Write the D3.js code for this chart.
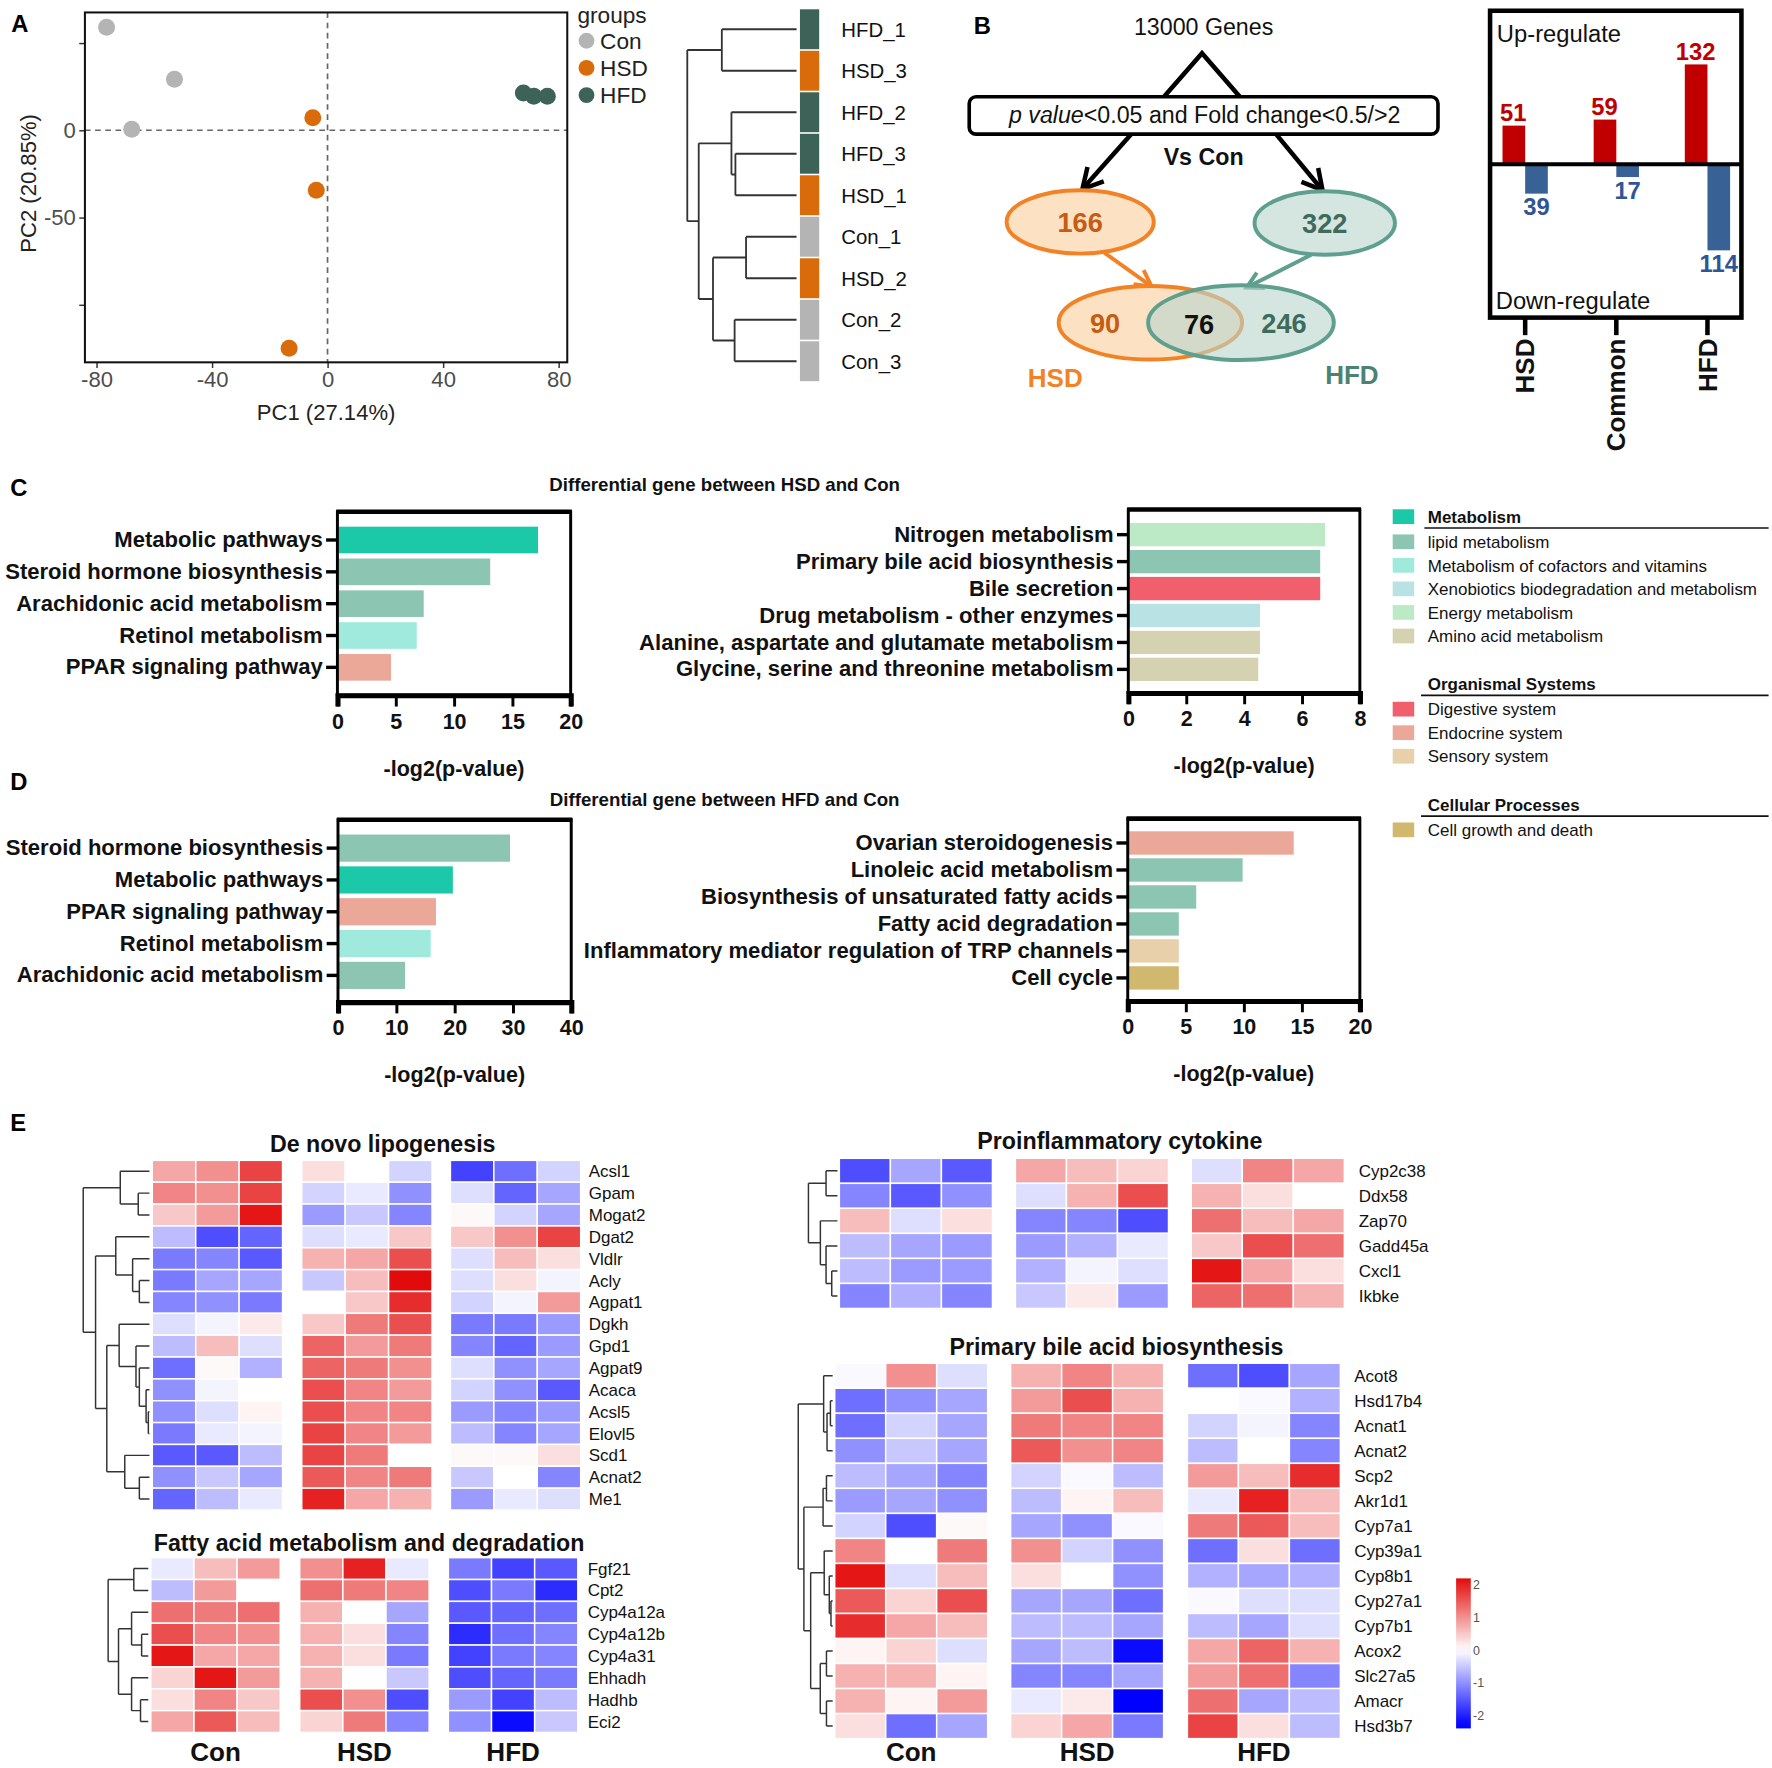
<!DOCTYPE html>
<html>
<head>
<meta charset="utf-8">
<title>Transcriptome figure</title>
<script src="https://cdn.jsdelivr.net/npm/d3@7"></script>
<style>
  body { margin: 0; background: #fff; }
  svg { font-family: "Liberation Sans", Arial, Helvetica, sans-serif; }
</style>
</head>
<body>
<div id="chart"></div>
<script>
// ---------------- data ----------------
// A: PCA
var pcaGroupNames = ["Con", "HSD", "HFD"];
var pcaGroupColors = ["#b4b4b4", "#d96b0b", "#3d6358"];
var pcaGroup = ["Con", "Con", "Con", "HSD", "HSD", "HSD", "HFD", "HFD", "HFD"];
var pc1 = [-76.5, -53, -67.8, -5.1, -3.9, -13.3, 67.8, 71.4, 76.1];
var pc2 = [59, 29.2, 0.6, 7.1, -34.4, -125, 21.4, 19.5, 19.5];
var pcaXTicks = [-80, -40, 0, 40, 80];
var pcaYTicks = [50, 0, -50, -100];
var pcaYLabelled = [0, -50];

// A: sample clustering
var sampleOrder = ["HFD_1", "HSD_3", "HFD_2", "HFD_3", "HSD_1", "Con_1", "HSD_2", "Con_2", "Con_3"];
var sampleGroup = ["HFD", "HSD", "HFD", "HFD", "HSD", "Con", "HSD", "Con", "Con"];
// [left, right, height]
var sampleTree = [[0, 1, 66], [[2, [3, 4, 54], 57.5], [[5, 6, 44.6], [7, 8, 54.7], 73.8], 86.4], 96.5];

// B: DEG counts
var totalGenes = 13000;
var degHSD = 166, degHFD = 322;
var onlyHSD = 90, commonDEG = 76, onlyHFD = 246;
var regCategories = ["HSD", "Common", "HFD"];
var upCounts = [51, 59, 132];
var downCounts = [39, 17, 114];

// C / D: KEGG classes
var keggClasses = ["Metabolism", "lipid metabolism", "Metabolism of cofactors and vitamins",
  "Xenobiotics biodegradation and metabolism", "Energy metabolism", "Amino acid metabolism",
  "Digestive system", "Endocrine system", "Sensory system", "Cell growth and death"];
var keggColors = ["#1bc9a9", "#8cc5b2", "#9feadc", "#b9e2e4", "#bdeac6", "#d4d2b1",
  "#f15f6c", "#eba898", "#e8d0ab", "#d1b86f"];
var legendHeaders = ["Metabolism", "Organismal Systems", "Cellular Processes"];
var legendItems = [
  ["lipid metabolism", "Metabolism of cofactors and vitamins", "Xenobiotics biodegradation and metabolism", "Energy metabolism", "Amino acid metabolism"],
  ["Digestive system", "Endocrine system", "Sensory system"],
  ["Cell growth and death"]
];

var cLeftTerms = ["Metabolic pathways", "Steroid hormone biosynthesis", "Arachidonic acid metabolism", "Retinol metabolism", "PPAR signaling pathway"];
var cLeftValues = [17.2, 13.1, 7.4, 6.8, 4.6];
var cLeftClass = ["Metabolism", "lipid metabolism", "lipid metabolism", "Metabolism of cofactors and vitamins", "Endocrine system"];

var cRightTerms = ["Nitrogen metabolism", "Primary bile acid biosynthesis", "Bile secretion", "Drug metabolism - other enzymes", "Alanine, aspartate and glutamate metabolism", "Glycine, serine and threonine metabolism"];
var cRightValues = [6.8, 6.63, 6.63, 4.55, 4.55, 4.49];
var cRightClass = ["Energy metabolism", "lipid metabolism", "Digestive system", "Xenobiotics biodegradation and metabolism", "Amino acid metabolism", "Amino acid metabolism"];

var dLeftTerms = ["Steroid hormone biosynthesis", "Metabolic pathways", "PPAR signaling pathway", "Retinol metabolism", "Arachidonic acid metabolism"];
var dLeftValues = [29.5, 19.7, 16.8, 15.9, 11.5];
var dLeftClass = ["lipid metabolism", "Metabolism", "Endocrine system", "Metabolism of cofactors and vitamins", "lipid metabolism"];

var dRightTerms = ["Ovarian steroidogenesis", "Linoleic acid metabolism", "Biosynthesis of unsaturated fatty acids", "Fatty acid degradation", "Inflammatory mediator regulation of TRP channels", "Cell cycle"];
var dRightValues = [14.3, 9.9, 5.9, 4.4, 4.4, 4.4];
var dRightClass = ["Endocrine system", "lipid metabolism", "lipid metabolism", "lipid metabolism", "Sensory system", "Cell growth and death"];

// E: heatmaps (z-scores; columns Con1-3, HSD1-3, HFD1-3)
var heatGroups = ["Con", "HSD", "HFD"];

var denovoGenes = ["Acsl1", "Gpam", "Mogat2", "Dgat2", "Vldlr", "Acly", "Agpat1", "Dgkh", "Gpd1", "Agpat9", "Acaca", "Acsl5", "Elovl5", "Scd1", "Acnat2", "Me1"];
var denovoZ = [
  [0.8, 1.0, 1.7, 0.3, 0.0, -0.4, -1.7, -1.3, -0.4],
  [1.1, 1.0, 1.7, -0.4, -0.2, -1.0, -0.3, -1.4, -0.8],
  [0.5, 0.9, 2.1, -0.9, -0.5, -1.1, 0.05, -0.4, -0.8],
  [-0.6, -1.6, -1.4, -0.3, -0.2, 0.5, 0.5, 1.0, 1.7],
  [-1.2, -1.1, -1.5, 0.7, 0.8, 1.6, -0.3, 0.6, 0.3],
  [-1.2, -0.8, -0.8, -0.5, 0.6, 2.2, -0.3, 0.3, -0.1],
  [-1.1, -1.0, -1.2, 0.0, 0.5, 1.9, -0.4, -0.1, 0.9],
  [-0.3, -0.1, 0.2, 0.5, 1.2, 1.6, -1.2, -1.2, -0.9],
  [-0.6, 0.6, -0.3, 1.4, 0.9, 1.2, -1.1, -1.4, -0.9],
  [-1.3, 0.05, -0.7, 1.4, 1.2, 1.0, -0.3, -1.0, -0.8],
  [-1.0, -0.1, 0.0, 1.6, 1.1, 0.9, -0.4, -1.0, -1.5],
  [-1.0, -0.3, 0.1, 1.6, 1.1, 1.1, -0.9, -1.1, -0.9],
  [-1.2, -0.2, -0.1, 1.7, 1.1, 0.9, -0.6, -1.1, -0.8],
  [-1.5, -1.5, -0.6, 1.7, 1.2, 0.0, 0.05, 0.05, 0.3],
  [-1.0, -0.5, -0.8, 1.5, 1.1, 1.2, -0.5, 0.0, -1.1],
  [-1.4, -0.6, -0.2, 2.0, 0.8, 0.7, -0.9, -0.2, -0.3]
];
var denovoTree = [[0, [1, 2, 10], 26], [[3, [4, [5, 6, 9], 15], 30], [[7, [8, [9, [10, [11, 12, 1], 3], 9], 12], 27], [13, [14, 15, 9], 22], 38], 48], 59];

var fattyGenes = ["Fgf21", "Cpt2", "Cyp4a12a", "Cyp4a12b", "Cyp4a31", "Ehhadh", "Hadhb", "Eci2"];
var fattyZ = [
  [-0.2, 0.6, 0.9, 1.0, 2.0, -0.2, -1.2, -1.7, -1.5],
  [-0.6, 0.9, 0.0, 1.3, 1.2, 1.1, -1.6, -1.2, -1.9],
  [1.3, 1.2, 1.3, 0.7, 0.0, -0.8, -1.5, -1.4, -1.3],
  [1.6, 1.1, 1.0, 0.7, 0.3, -1.1, -1.9, -1.3, -1.1],
  [2.1, 0.8, 0.8, 0.7, 0.3, -1.2, -1.7, -1.2, -1.1],
  [0.4, 2.1, 0.9, 0.7, 0.0, -0.5, -1.6, -1.4, -1.2],
  [0.3, 1.1, 0.5, 1.6, 1.0, -1.6, -0.9, -1.7, -0.6],
  [0.8, 1.5, 0.6, 0.4, 1.2, -1.1, -1.0, -2.2, -0.5]
];
var fattyTree = [[0, 1, 13], [[2, [3, 4, 6], 15], [5, [6, 7, 7], 15], 26.7], 36];

var inflamGenes = ["Cyp2c38", "Ddx58", "Zap70", "Gadd45a", "Cxcl1", "Ikbke"];
var inflamZ = [
  [-1.6, -0.8, -1.5, 0.8, 0.6, 0.4, -0.3, 1.1, 0.8],
  [-1.1, -1.5, -1.0, -0.3, 0.7, 1.6, 0.7, 0.3, 0.0],
  [0.6, -0.3, 0.3, -1.1, -1.1, -1.6, 1.3, 0.6, 0.8],
  [-0.6, -0.8, -0.9, -0.9, -0.7, -0.2, 0.5, 1.6, 1.3],
  [-0.6, -0.9, -0.9, -0.7, -0.1, -0.3, 2.1, 0.8, 0.3],
  [-1.1, -0.7, -1.1, -0.5, 0.2, -0.9, 1.4, 1.3, 0.7]
];
var inflamTree = [[0, 1, 10], [2, [3, [4, 5, 5], 10], 15], 25.5];

var bileGenes = ["Acot8", "Hsd17b4", "Acnat1", "Acnat2", "Scp2", "Akr1d1", "Cyp7a1", "Cyp39a1", "Cyp8b1", "Cyp27a1", "Cyp7b1", "Acox2", "Slc27a5", "Amacr", "Hsd3b7"];
var bileZ = [
  [-0.05, 1.0, -0.3, 0.7, 1.1, 0.7, -1.3, -1.6, -0.8],
  [-1.3, -1.0, -0.8, 0.9, 1.6, 0.7, 0.0, -0.05, -0.7],
  [-1.3, -0.4, -0.8, 1.2, 1.1, 1.1, -0.4, -0.1, -1.1],
  [-1.0, -0.5, -0.8, 1.5, 1.0, 1.1, -0.6, 0.0, -1.1],
  [-0.6, -0.8, -1.1, -0.4, -0.05, -0.6, 0.9, 0.6, 1.9],
  [-0.9, -0.8, -1.0, -0.6, 0.1, 0.6, -0.2, 2.0, 0.6],
  [-0.4, -1.6, 0.05, -0.8, -1.0, -0.05, 1.2, 1.5, 0.6],
  [1.1, 0.0, 1.2, 1.0, -0.4, -1.0, -1.3, 0.3, -1.3],
  [2.1, -0.3, 0.6, 0.3, 0.0, -1.0, -0.7, -0.8, -0.7],
  [1.5, 0.4, 1.6, -0.8, -0.8, -1.3, -0.05, -0.3, -0.3],
  [1.9, 0.8, 0.6, -0.6, -0.6, -0.8, -0.6, -0.8, -0.3],
  [0.1, 0.4, -0.3, -0.8, -0.6, -2.2, 0.8, 1.4, 0.7],
  [0.7, 0.7, 0.1, -1.1, -1.1, -0.8, 0.9, 1.3, -1.1],
  [0.7, 0.1, 0.9, -0.2, 0.2, -2.3, 1.3, -0.8, -0.6],
  [0.3, -1.3, -0.8, 0.4, 0.8, -1.2, 1.7, 0.3, -0.6]
];
var bileTree = [[0, [[1, 2, 2], 3, 5], 8], [[[4, 5, 5.5], 6, 8.5], [[7, [8, [9, 10, 1.5], 3], 7.5], [[11, 12, 5.5], [13, 14, 5.5], 11], 19.5], 25.5], 30.5];

var colorbarTicks = [2, 1, 0, -1, -2];

// ---------------- drawing ----------------
var S = 1772 / 1565;   // layout worked out at 1565 px wide
var svg = d3.select("#chart").append("svg").attr("width", 1772).attr("height", 1768);
svg.append("rect").attr("width", 1772).attr("height", 1768).attr("fill", "#fff");
var root = svg.append("g").attr("transform", "scale(" + S + ")");

function txt(g, x, y, s, size, opts) {
  opts = opts || {};
  return g.append("text").attr("x", x).attr("y", y).text(s)
    .attr("font-size", size)
    .attr("font-weight", opts.bold ? "bold" : null)
    .attr("text-anchor", opts.anchor || "start")
    .attr("fill", opts.fill || "#000");
}

[["A", 10, 28], ["B", 860, 30], ["C", 9, 438], ["D", 9, 698], ["E", 9, 999]].forEach(function (p) {
  txt(root, p[1], p[2], p[0], 21, { bold: true });
});

var groupColor = d3.scaleOrdinal().domain(pcaGroupNames).range(pcaGroupColors);

// ---- A: PCA ----
(function () {
  var g = root.append("g");
  var x = d3.scaleLinear().domain([-84, 83]).range([75, 501]);
  var y = d3.scaleLinear().domain([-133, 67.5]).range([320, 11]);

  g.append("line").attr("x1", x(0)).attr("x2", x(0)).attr("y1", 11).attr("y2", 320)
    .attr("stroke", "#666").attr("stroke-width", 1.5).attr("stroke-dasharray", "5,4");
  g.append("line").attr("x1", 75).attr("x2", 501).attr("y1", y(0)).attr("y2", y(0))
    .attr("stroke", "#666").attr("stroke-width", 1.5).attr("stroke-dasharray", "5,4");

  var xa = g.append("g").attr("transform", "translate(0,320)")
    .call(d3.axisBottom(x).tickValues(pcaXTicks).tickSize(5).tickFormat(function (d) { return String(d); }));
  var ya = g.append("g").attr("transform", "translate(75,0)")
    .call(d3.axisLeft(y).tickValues(pcaYTicks).tickSize(5)
      .tickFormat(function (d) { return pcaYLabelled.indexOf(d) >= 0 ? String(d) : ""; }));
  [xa, ya].forEach(function (a) {
    a.select(".domain").remove();
    a.selectAll("line").attr("stroke", "#333").attr("stroke-width", 1.3);
    a.selectAll("text").attr("font-size", 19.5).attr("fill", "#4d4d4d").attr("font-family", null);
  });

  g.append("rect").attr("x", 75).attr("y", 11).attr("width", 426).attr("height", 309)
    .attr("fill", "none").attr("stroke", "#111").attr("stroke-width", 1.8);

  g.selectAll("circle.pt").data(pc1).enter().append("circle")
    .attr("cx", function (d) { return x(d); })
    .attr("cy", function (d, i) { return y(pc2[i]); })
    .attr("r", 7.5)
    .attr("fill", function (d, i) { return groupColor(pcaGroup[i]); });

  txt(g, 288, 371, "PC1 (27.14%)", 19.5, { anchor: "middle", fill: "#222" });
  txt(g, 0, 0, "PC2 (20.85%)", 19.5, { anchor: "middle", fill: "#222" })
    .attr("transform", "translate(32,162) rotate(-90)");

  txt(g, 510, 20, "groups", 20, { fill: "#222" });
  pcaGroupNames.forEach(function (n, i) {
    g.append("circle").attr("cx", 518).attr("cy", 36 + i * 24).attr("r", 7).attr("fill", groupColor(n));
    txt(g, 530, 43 + i * 24, n, 20, { fill: "#222" });
  });
})();

// ---- dendrogram helper ----
function layoutTree(node, leafY) {
  if (typeof node === "number") return { y: leafY(node), h: 0 };
  var a = layoutTree(node[0], leafY), b = layoutTree(node[1], leafY);
  return { y: (a.y + b.y) / 2, h: node[2], kids: [a, b] };
}
function drawTree(g, tree, leafY, hx, width) {
  var r = layoutTree(tree, leafY);
  var d = [];
  (function walk(n) {
    if (!n.kids) return;
    n.kids.forEach(function (k) { d.push("M" + hx(k.h) + "," + k.y + "H" + hx(n.h)); walk(k); });
    d.push("M" + hx(n.h) + "," + n.kids[0].y + "V" + n.kids[1].y);
  })(r);
  g.append("path").attr("d", d.join("")).attr("fill", "none")
    .attr("stroke", "#333").attr("stroke-width", width || 1.4);
}

// ---- A: sample clustering ----
(function () {
  var g = root.append("g");
  var yb = d3.scaleBand().domain(sampleOrder).range([7.5, 7.5 + 9 * 36.65]);
  var leafY = function (i) { return yb(sampleOrder[i]) + yb.bandwidth() / 2; };
  var hx = d3.scaleLinear().domain([0, 96.5]).range([703.5, 607]);
  drawTree(g, sampleTree, leafY, hx, 1.6);
  g.selectAll("rect.sb").data(sampleOrder).enter().append("rect")
    .attr("x", 706.5).attr("width", 17)
    .attr("y", function (d) { return yb(d) + 0.7; })
    .attr("height", yb.bandwidth() - 1.4)
    .attr("fill", function (d, i) { return groupColor(sampleGroup[i]); });
  g.selectAll("text.sl").data(sampleOrder).enter().append("text")
    .attr("x", 743).attr("y", function (d) { return yb(d) + yb.bandwidth() / 2 + 6.5; })
    .attr("font-size", 18).attr("fill", "#111").text(function (d) { return d; });
})();

// ---- B: flow and Venn ----
function arrow(g, x1, y1, x2, y2, color, w, head) {
  g.append("line").attr("x1", x1).attr("y1", y1).attr("x2", x2).attr("y2", y2)
    .attr("stroke", color).attr("stroke-width", w);
  var ang = Math.atan2(y2 - y1, x2 - x1);
  var a1 = ang + Math.PI - 0.5, a2 = ang + Math.PI + 0.5;
  g.append("path")
    .attr("d", "M" + (x2 + head * Math.cos(a1)) + "," + (y2 + head * Math.sin(a1)) + "L" + x2 + "," + y2 +
      "L" + (x2 + head * Math.cos(a2)) + "," + (y2 + head * Math.sin(a2)))
    .attr("fill", "none").attr("stroke", color).attr("stroke-width", w).attr("stroke-linejoin", "miter");
}
(function () {
  var g = root.append("g");
  var orange = "#f28226", orangeTxt = "#c65b12", teal = "#5f9f8e", tealTxt = "#3e6b5c";
  var peach = "#fde1c3", mint = "#d5e5e0";
  var fmt = d3.format("d");

  txt(g, 1063, 31, fmt(totalGenes) + " Genes", 20.5, { anchor: "middle", fill: "#111" });
  g.append("path").attr("d", "M1028,85.5L1061.6,47L1095,85.5").attr("fill", "none")
    .attr("stroke", "#000").attr("stroke-width", 4);
  g.append("rect").attr("x", 856).attr("y", 85.5).attr("width", 414).attr("height", 33).attr("rx", 6)
    .attr("fill", "#fff").attr("stroke", "#000").attr("stroke-width", 3.2);
  var t = g.append("text").attr("x", 1064).attr("y", 109).attr("text-anchor", "middle")
    .attr("font-size", 20.5).attr("fill", "#111");
  t.append("tspan").attr("font-style", "italic").text("p value");
  t.append("tspan").text("<0.05 and Fold change<0.5/>2");
  txt(g, 1063, 146, "Vs Con", 20.5, { anchor: "middle", bold: true, fill: "#111" });

  arrow(g, 999, 118.5, 956, 167, "#000", 4, 20);
  arrow(g, 1127, 118.5, 1168, 168, "#000", 4, 20);

  g.append("ellipse").attr("cx", 954).attr("cy", 196).attr("rx", 65).attr("ry", 28)
    .attr("fill", peach).attr("stroke", orange).attr("stroke-width", 3.5);
  g.append("ellipse").attr("cx", 1170).attr("cy", 197).attr("rx", 62).attr("ry", 28)
    .attr("fill", mint).attr("stroke", teal).attr("stroke-width", 3.5);
  txt(g, 954, 204.5, String(degHSD), 24, { anchor: "middle", bold: true, fill: orangeTxt });
  txt(g, 1170, 205.5, String(degHFD), 24, { anchor: "middle", bold: true, fill: tealTxt });

  arrow(g, 975, 223, 1017, 253, orange, 3.5, 16);
  arrow(g, 1158, 225, 1101, 254, teal, 3.5, 16);

  g.append("ellipse").attr("cx", 1016).attr("cy", 285).attr("rx", 81).attr("ry", 32.5)
    .attr("fill", peach).attr("stroke", orange).attr("stroke-width", 3.5);
  g.append("ellipse").attr("cx", 1096).attr("cy", 285).attr("rx", 82).attr("ry", 33)
    .attr("fill", "#b9d6cd").attr("fill-opacity", 0.6).attr("stroke", teal).attr("stroke-width", 3.5);
  txt(g, 976, 294, String(onlyHSD), 24, { anchor: "middle", bold: true, fill: orangeTxt });
  txt(g, 1059, 295, String(commonDEG), 24, { anchor: "middle", bold: true, fill: "#111" });
  txt(g, 1134, 294, String(onlyHFD), 24, { anchor: "middle", bold: true, fill: tealTxt });

  txt(g, 932, 342, "HSD", 23, { anchor: "middle", bold: true, fill: orange });
  txt(g, 1194, 339, "HFD", 23, { anchor: "middle", bold: true, fill: "#4c8272" });
})();

// ---- B: up/down bars ----
(function () {
  var g = root.append("g");
  var x = d3.scalePoint().domain(regCategories).range([1347, 1508]);
  var y = d3.scaleLinear().domain([-203, 203]).range([280.5, 9.5]);
  var bw = 20;
  g.selectAll("rect.up").data(upCounts).enter().append("rect")
    .attr("x", function (d, i) { return x(regCategories[i]) - bw; }).attr("width", bw)
    .attr("y", function (d) { return y(d); }).attr("height", function (d) { return y(0) - y(d); })
    .attr("fill", "#c00000");
  g.selectAll("rect.dn").data(downCounts).enter().append("rect")
    .attr("x", function (d, i) { return x(regCategories[i]); }).attr("width", bw)
    .attr("y", y(0)).attr("height", function (d) { return y(-d) - y(0); })
    .attr("fill", "#386195");
  g.selectAll("text.up").data(upCounts).enter().append("text")
    .attr("x", function (d, i) { return x(regCategories[i]) - bw / 2 - 0.5; })
    .attr("y", function (d) { return y(d) - 4; })
    .attr("text-anchor", "middle").attr("font-size", 21).attr("font-weight", "bold").attr("fill", "#c00000")
    .text(function (d) { return d; });
  g.selectAll("text.dn").data(downCounts).enter().append("text")
    .attr("x", function (d, i) { return x(regCategories[i]) + bw / 2; })
    .attr("y", function (d) { return y(-d) + 19; })
    .attr("text-anchor", "middle").attr("font-size", 21).attr("font-weight", "bold").attr("fill", "#2f5597")
    .text(function (d) { return d; });

  g.append("line").attr("x1", 1316).attr("x2", 1538).attr("y1", y(0)).attr("y2", y(0))
    .attr("stroke", "#000").attr("stroke-width", 3.5);
  g.append("rect").attr("x", 1316).attr("y", 9.5).attr("width", 222).attr("height", 271)
    .attr("fill", "none").attr("stroke", "#000").attr("stroke-width", 4);
  txt(g, 1322, 37, "Up-regulate", 21, { fill: "#111" });
  txt(g, 1321, 273, "Down-regulate", 21, { fill: "#111" });

  regCategories.forEach(function (c) {
    g.append("line").attr("x1", x(c)).attr("x2", x(c)).attr("y1", 281).attr("y2", 296)
      .attr("stroke", "#000").attr("stroke-width", 4);
    txt(g, 0, 0, c, 23, { bold: true, anchor: "end", fill: "#111" })
      .attr("transform", "translate(" + (x(c) + 8) + ",299) rotate(-90)");
  });
})();

// ---- C / D: enrichment bars ----
var classColor = d3.scaleOrdinal().domain(keggClasses).range(keggColors);
function enrichChart(cfg) {
  var g = root.append("g");
  var x = d3.scaleLinear().domain([0, cfg.max]).range([cfg.x0, cfg.x1]);
  var y = d3.scaleBand().domain(cfg.terms).range([cfg.b0, cfg.b1])
    .paddingInner(cfg.pad).paddingOuter(cfg.pad / 2);
  g.selectAll("rect.bar").data(cfg.values).enter().append("rect")
    .attr("x", x(0) + 1).attr("y", function (d, i) { return y(cfg.terms[i]); })
    .attr("width", function (d) { return x(d) - x(0) - 1; }).attr("height", y.bandwidth())
    .attr("fill", function (d, i) { return classColor(cfg.classes[i]); });

  g.append("rect").attr("x", cfg.x0).attr("y", cfg.y0).attr("width", cfg.x1 - cfg.x0).attr("height", cfg.y1 - cfg.y0)
    .attr("fill", "none").attr("stroke", "#000").attr("stroke-width", 2.6);
  g.append("line").attr("x1", cfg.x0 - 1).attr("x2", cfg.x1 + 1).attr("y1", cfg.y0).attr("y2", cfg.y0)
    .attr("stroke", "#000").attr("stroke-width", 4);

  var xa = g.append("g").attr("transform", "translate(0," + cfg.y1 + ")")
    .call(d3.axisBottom(x).tickValues(cfg.ticks).tickSize(10).tickPadding(6));
  xa.select(".domain").attr("stroke-width", 4.5);
  xa.selectAll("line").attr("stroke-width", 2.6);
  xa.selectAll("text").attr("font-size", 19).attr("font-weight", "bold").attr("font-family", null).attr("fill", "#111");

  var ya = g.append("g").attr("transform", "translate(" + cfg.x0 + ",0)")
    .call(d3.axisLeft(y).tickSize(10).tickPadding(3));
  ya.select(".domain").remove();
  ya.selectAll("line").attr("stroke-width", 3);
  ya.selectAll("text").attr("font-size", 19.5).attr("font-weight", "bold").attr("font-family", null).attr("fill", "#111");

  txt(g, (cfg.x0 + cfg.x1) / 2, cfg.y1 + 71, "-log2(p-value)", 19, { anchor: "middle", bold: true, fill: "#111" });
}
txt(root, 640, 434, "Differential gene between HSD and Con", 16.5, { anchor: "middle", bold: true, fill: "#111" });
txt(root, 640, 712, "Differential gene between HFD and Con", 16.5, { anchor: "middle", bold: true, fill: "#111" });
enrichChart({ terms: cLeftTerms, values: cLeftValues, classes: cLeftClass, max: 20, ticks: [0, 5, 10, 15, 20],
  x0: 298, x1: 504, y0: 452, y1: 614, b0: 462.85, b1: 603.45, pad: 0.164 });
enrichChart({ terms: cRightTerms, values: cRightValues, classes: cRightClass, max: 8, ticks: [0, 2, 4, 6, 8],
  x0: 996.5, x1: 1201, y0: 450, y1: 612, b0: 460.3, b1: 603.1, pad: 0.134 });
enrichChart({ terms: dLeftTerms, values: dLeftValues, classes: dLeftClass, max: 40, ticks: [0, 10, 20, 30, 40],
  x0: 298.5, x1: 504.5, y0: 724, y1: 885, b0: 735, b1: 875.5, pad: 0.146 });
enrichChart({ terms: dRightTerms, values: dRightValues, classes: dRightClass, max: 20, ticks: [0, 5, 10, 15, 20],
  x0: 996, x1: 1201, y0: 723, y1: 884, b0: 732.6, b1: 875.6, pad: 0.134 });

// ---- KEGG legend ----
(function () {
  var g = root.append("g");
  var starts = [456.3, 604.1, 710.7];
  legendHeaders.forEach(function (h, gi) {
    var y0 = starts[gi];
    if (keggClasses.indexOf(h) >= 0) {
      g.append("rect").attr("x", 1230).attr("y", y0 - 6.5).attr("width", 19).attr("height", 13).attr("fill", classColor(h));
    }
    txt(g, 1261, y0 + 5.5, h, 15, { bold: true, fill: "#111" });
    g.append("line").attr("x1", gi === 0 ? 1258 : 1255).attr("x2", 1562).attr("y1", y0 + 10).attr("y2", y0 + 10)
      .attr("stroke", "#111").attr("stroke-width", 1.5);
    legendItems[gi].forEach(function (it, k) {
      var yy = y0 + 22.2 + k * 20.8;
      g.append("rect").attr("x", 1230).attr("y", yy - 6.5).attr("width", 19).attr("height", 13).attr("fill", classColor(it));
      txt(g, 1261, yy + 5.5, it, 15, { fill: "#111" });
    });
  });
})();

// ---- E: heatmaps ----
var heatColor = d3.scaleLinear().domain([-2.3, 0, 2.3]).range(["#0000ff", "#ffffff", "#e10000"]).clamp(true);
function heatmap(cfg) {
  var g = root.append("g");
  var y = d3.scaleBand().domain(cfg.genes).range([cfg.top, cfg.top + cfg.genes.length * cfg.rowH]);
  var gx = d3.scaleOrdinal().domain(heatGroups).range(cfg.starts);
  var cx = d3.scaleBand().domain([0, 1, 2]).range([0, 3 * cfg.colW]);
  var cells = [];
  cfg.values.forEach(function (row, i) {
    row.forEach(function (v, j) { cells.push({ gene: cfg.genes[i], grp: heatGroups[Math.floor(j / 3)], k: j % 3, v: v }); });
  });
  g.selectAll("rect.cell").data(cells).enter().append("rect")
    .attr("x", function (d) { return gx(d.grp) + cx(d.k); })
    .attr("y", function (d) { return y(d.gene); })
    .attr("width", cx.bandwidth()).attr("height", y.bandwidth())
    .attr("fill", function (d) { return heatColor(d.v); })
    .attr("stroke", "#fff").attr("stroke-width", 1.3);
  g.selectAll("text.gene").data(cfg.genes).enter().append("text")
    .attr("x", cfg.labelX).attr("y", function (d) { return y(d) + y.bandwidth() / 2 + 5.3; })
    .attr("font-size", 15).attr("fill", "#111").text(function (d) { return d; });
  var hx = d3.scaleLinear().domain([0, cfg.tree[2]]).range([cfg.leafX, cfg.rootX]);
  drawTree(g, cfg.tree, function (i) { return y(cfg.genes[i]) + y.bandwidth() / 2; }, hx, 1.3);
  txt(g, cfg.titleX, cfg.titleY, cfg.title, 20.5, { anchor: "middle", bold: true, fill: "#111" });
  if (cfg.groupLabels) {
    heatGroups.forEach(function (n) {
      txt(g, gx(n) + 1.5 * cfg.colW, 1555.5, n, 23, { anchor: "middle", bold: true, fill: "#111" });
    });
  }
}
heatmap({ genes: denovoGenes, values: denovoZ, tree: denovoTree, top: 1024.8, rowH: 19.3,
  starts: [134.5, 266.5, 397.8], colW: 38.35, labelX: 520, leafX: 132, rootX: 73.5,
  title: "De novo lipogenesis", titleX: 338, titleY: 1017 });
heatmap({ genes: fattyGenes, values: fattyZ, tree: fattyTree, top: 1375.7, rowH: 19.3,
  starts: [133.2, 264.7, 396], colW: 38.1, labelX: 519, leafX: 131, rootX: 95.5,
  title: "Fatty acid metabolism and degradation", titleX: 326, titleY: 1370, groupLabels: true });
heatmap({ genes: inflamGenes, values: inflamZ, tree: inflamTree, top: 1023, rowH: 22.1,
  starts: [741.3, 896.8, 1052.1], colW: 45.07, labelX: 1200, leafX: 739.6, rootX: 714,
  title: "Proinflammatory cytokine", titleX: 989, titleY: 1015 });
heatmap({ genes: bileGenes, values: bileZ, tree: bileTree, top: 1204, rowH: 22.1,
  starts: [737.2, 892.6, 1048.7], colW: 45.03, labelX: 1196, leafX: 735.4, rootX: 705,
  title: "Primary bile acid biosynthesis", titleX: 986, titleY: 1197, groupLabels: true });

// ---- colour bar ----
(function () {
  var g = root.append("g");
  var cy = d3.scaleLinear().domain([-2.4, 2.2]).range([1526.5, 1394]);
  var grad = svg.append("defs").append("linearGradient").attr("id", "zgrad")
    .attr("x1", 0).attr("y1", 0).attr("x2", 0).attr("y2", 1);
  d3.range(0, 1.0001, 0.05).forEach(function (f) {
    var v = cy.invert(1394 + f * (1526.5 - 1394));
    grad.append("stop").attr("offset", f).attr("stop-color", heatColor(v));
  });
  g.append("rect").attr("x", 1286).attr("y", 1394).attr("width", 13).attr("height", 132.5).attr("fill", "url(#zgrad)");
  colorbarTicks.forEach(function (t) {
    txt(g, 1301, cy(t) + 4, t < 0 ? "-" + Math.abs(t) : String(t), 11, { fill: "#555" });
  });
})();
</script>
</body>
</html>
